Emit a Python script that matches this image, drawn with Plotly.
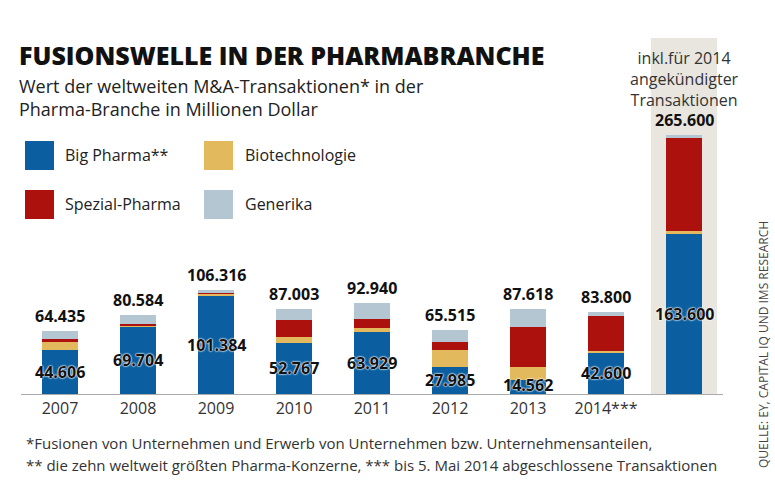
import plotly.graph_objects as go

years = ["2007", "2008", "2009", "2010", "2011", "2012", "2013", "2014***", ""]
big_pharma = [44606, 69704, 101384, 52767, 63929, 27985, 14562, 42600, 163600]
biotech = [8500, 280, 1432, 5336, 3311, 16630, 13356, 1400, 4000]
spezial = [3400, 1700, 1200, 18100, 9700, 8800, 41100, 36300, 95000]
generika = [7929, 8900, 2300, 10800, 16000, 12100, 18600, 3500, 3000]
totals = [64435, 80584, 106316, 87003, 92940, 65515, 87618, 83800, 265600]
series_names = ["Big Pharma**", "Biotechnologie", "Spezial-Pharma", "Generika"]
colors = ["#0b5fa0", "#e3b95e", "#ad110e", "#b3c6d2"]

FONT = "Open Sans"

def fmt(v):
    return f"{v:,}".replace(",", ".")

x = list(range(len(years)))
fig = go.Figure()
for name, vals, col in zip(series_names, [big_pharma, biotech, spezial, generika], colors):
    fig.add_trace(go.Bar(x=x, y=vals, name=name, marker=dict(color=col, line=dict(width=0)),
                         width=0.47, showlegend=False, hoverinfo="y+name"))

# highlighted last column
fig.add_shape(type="rect", xref="x", yref="paper", x0=7.575, x1=8.425, y0=0, y1=1,
              fillcolor="#e9e6df", line=dict(width=0), layer="below")

ann = []
for i, t in enumerate(totals):
    ann.append(dict(x=i, y=t, xref="x", yref="y", text=f"<b>{fmt(t)}</b>", showarrow=False,
                    yanchor="bottom", yshift=2, font=dict(family=FONT, size=16, color="#111")))
for i, b in enumerate(big_pharma):
    ann.append(dict(x=i, y=max(b / 2, 9000), xref="x", yref="y", text=f"<b>{fmt(b)}</b>", showarrow=False,
                    yanchor="middle",
                    font=dict(family=FONT, size=16, color="#111",
                              shadow="0px 0px 2px white, 0px 0px 2px white, 0px 0px 1px white")))

ann.append(dict(x=8, y=323000, xref="x", yref="y", text="inkl.für 2014<br>angekündigter<br>Transaktionen",
                showarrow=False, yanchor="middle", font=dict(family=FONT, size=16, color="#333")))

# title / subtitle
ann.append(dict(x=17, y=482 - 55, xref="paper", yref="paper", text="FUSIONSWELLE IN DER PHARMABRANCHE",
                showarrow=False, xanchor="left", yanchor="middle",
                font=dict(family=FONT, size=25, color="#111", weight=800)))
ann.append(dict(x=17, y=482 - 97, xref="paper", yref="paper",
                text="Wert der weltweiten M&A-Transaktionen* in der<br>Pharma-Branche in Millionen Dollar",
                showarrow=False, xanchor="left", yanchor="middle", align="left",
                font=dict(family=FONT, size=18, color="#222")))

# legend
leg_pos = [(25, 141, 63), (204, 141, 243), (25, 190, 63), (204, 190, 243)]
shapes = []
for (sx, sy, tx), name, col in zip(leg_pos, series_names, colors):
    shapes.append(dict(type="rect", xref="paper", yref="paper", x0=sx, x1=sx + 29,
                       y0=482 - sy - 29, y1=482 - sy, fillcolor=col, line=dict(width=0)))
    ann.append(dict(x=tx, y=482 - sy - 14, xref="paper", yref="paper", text=name, showarrow=False,
                    xanchor="left", yanchor="middle", font=dict(family=FONT, size=16, color="#222")))

# footnotes
notes = ["*Fusionen von Unternehmen und Erwerb von Unternehmen bzw. Unternehmensanteilen,",
         "** die zehn weltweit größten Pharma-Konzerne, *** bis 5. Mai 2014 abgeschlossene Transaktionen"]
for k, n in enumerate(notes):
    ann.append(dict(x=24, y=482 - (443 + 22 * k), xref="paper", yref="paper", text=n,
                    showarrow=False, xanchor="left", yanchor="middle",
                    font=dict(family=FONT, size=15, color="#333")))

# source
ann.append(dict(x=763, y=482 - 345, xref="paper", yref="paper",
                text="QUELLE: EY, CAPITAL IQ UND IMS RESEARCH", textangle=-90, showarrow=False,
                xanchor="center", yanchor="middle", font=dict(family=FONT, size=12, color="#444")))

# convert pixel-placed paper annotations/shapes to paper fractions
L, R, T, B = 21, 52, 38, 88
W, H = 775, 482
pw, ph = W - L - R, H - T - B
for a in ann:
    if a.get("xref") == "paper":
        a["x"] = (a["x"] - L) / pw
        a["y"] = (a["y"] - B) / ph
for s in shapes:
    s["x0"] = (s["x0"] - L) / pw
    s["x1"] = (s["x1"] - L) / pw
    s["y0"] = (s["y0"] - B) / ph
    s["y1"] = (s["y1"] - B) / ph

fig.update_layout(
    width=W, height=H, barmode="stack", plot_bgcolor="white", paper_bgcolor="white",
    margin=dict(l=L, r=R, t=T, b=B, autoexpand=False),
    annotations=ann,
    font=dict(family=FONT),
    xaxis=dict(range=[-0.5, 8.5], tickvals=x[:8], ticktext=years[:8], showgrid=False,
               showline=True, linecolor="#aaa", linewidth=1, ticks="", zeroline=False,
               tickfont=dict(family=FONT, size=16, color="#333"), fixedrange=True),
    yaxis=dict(range=[0, 365000], visible=False, showgrid=False, zeroline=False),
)
for s in shapes:
    fig.add_shape(**s)

fig.write_html("out.html", config={"displayModeBar": False},
               post_script="document.body.style.margin='0';document.body.style.padding='0';")
